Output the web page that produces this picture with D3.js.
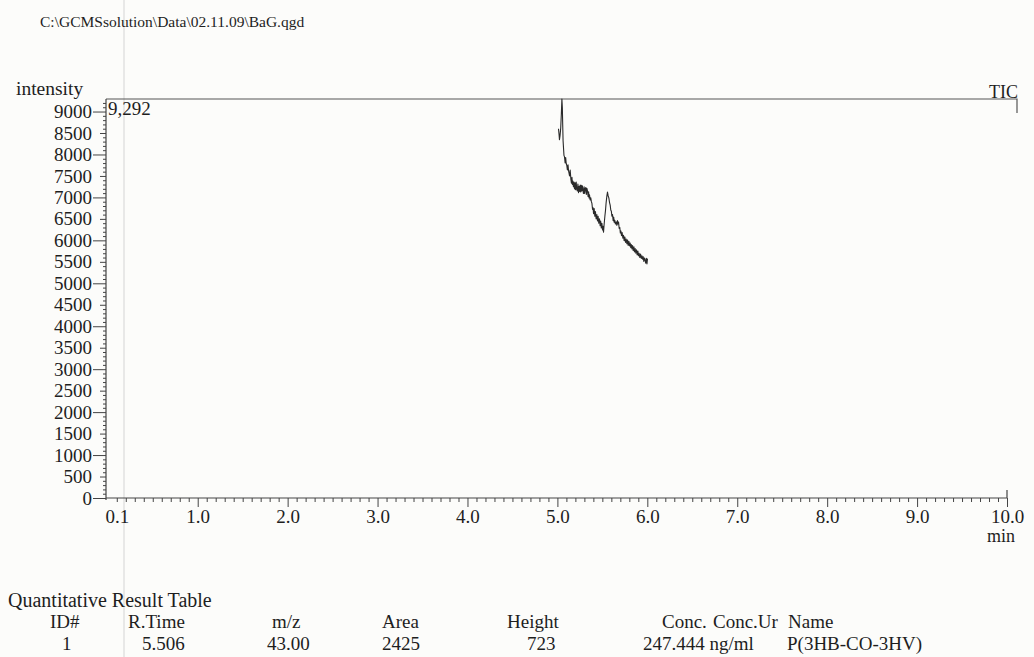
<!DOCTYPE html>
<html>
<head>
<meta charset="utf-8">
<script src="https://cdn.jsdelivr.net/npm/d3@7"></script>
<style>
  body { margin: 0; background: #fcfcfa; }
  svg { display: block; font-family: "Liberation Serif", "Times New Roman", serif; }
</style>
</head>
<body>
<script>
// chromatogram (TIC) values
var times = [5.012, 5.018, 5.023, 5.030, 5.037, 5.044, 5.050, 5.055, 5.059, 5.063,
  5.068, 5.073, 5.079, 5.086, 5.092, 5.098, 5.105, 5.111, 5.118, 5.124,
  5.130, 5.135, 5.142, 5.150, 5.156, 5.162, 5.167, 5.172, 5.178, 5.184,
  5.190, 5.196, 5.202, 5.209, 5.215, 5.222, 5.228, 5.235, 5.241, 5.248,
  5.254, 5.260, 5.266, 5.272, 5.278, 5.284, 5.290, 5.297, 5.303, 5.309,
  5.316, 5.322, 5.328, 5.335, 5.341, 5.347, 5.352, 5.357, 5.364, 5.371,
  5.378, 5.384, 5.391, 5.397, 5.402, 5.409, 5.416, 5.423, 5.431, 5.439,
  5.446, 5.453, 5.460, 5.468, 5.475, 5.481, 5.488, 5.495, 5.502, 5.508,
  5.513, 5.520, 5.528, 5.535, 5.542, 5.550, 5.557, 5.564, 5.572, 5.580,
  5.587, 5.594, 5.600, 5.606, 5.613, 5.620, 5.626, 5.632, 5.638, 5.645,
  5.654, 5.661, 5.668, 5.674, 5.680, 5.687, 5.694, 5.700, 5.706, 5.713,
  5.720, 5.728, 5.735, 5.742, 5.750, 5.758, 5.765, 5.773, 5.780, 5.787,
  5.795, 5.802, 5.809, 5.816, 5.822, 5.829, 5.836, 5.843, 5.851, 5.858,
  5.865, 5.872, 5.880, 5.887, 5.895, 5.902, 5.909, 5.917, 5.925, 5.933,
  5.940, 5.947, 5.954, 5.961, 5.968, 5.975, 5.982, 5.989, 5.996, 6.002];

var intensities = [8598, 8480, 8342, 8450, 8620, 8950, 9292, 9100, 8700, 8326,
  8150, 7980, 7944, 7800, 7930, 7790, 7740, 7640, 7760, 7620,
  7560, 7500, 7640, 7420, 7330, 7470, 7300, 7380, 7250, 7360,
  7200, 7340, 7180, 7360, 7190, 7150, 7310, 7110, 7260, 7140,
  7290, 7130, 7280, 7150, 7270, 7170, 7090, 7250, 7090, 7200,
  7230, 7070, 7210, 7150, 7020, 7130, 6990, 7060, 6940, 6990,
  6900, 6860, 6720, 6760, 6620, 6740, 6560, 6670, 6500, 6600,
  6450, 6560, 6400, 6500, 6340, 6450, 6290, 6400, 6240, 6330,
  6190, 6380, 6560, 6698, 6880, 7030, 7123, 7040, 6990, 6880,
  6820, 6700, 6680, 6560, 6600, 6460, 6540, 6420, 6470, 6380,
  6430, 6350, 6460, 6380, 6426, 6280, 6300, 6170, 6220, 6110,
  6180, 6050, 6120, 5990, 6080, 5950, 6030, 5920, 6010, 5880,
  5980, 5870, 5940, 5830, 5900, 5800, 5880, 5760, 5850, 5730,
  5810, 5700, 5780, 5660, 5750, 5640, 5700, 5600, 5680, 5580,
  5640, 5560, 5620, 5510, 5590, 5540, 5470, 5580, 5450, 5574];

var maxIntensity = 9292;
var yMajorTicks = [0, 500, 1000, 1500, 2000, 2500, 3000, 3500, 4000, 4500,
  5000, 5500, 6000, 6500, 7000, 7500, 8000, 8500, 9000];
var xTickValues = [0.1, 1, 2, 3, 4, 5, 6, 7, 8, 9, 10];
var xTickLabels = ["0.1", "1.0", "2.0", "3.0", "4.0", "5.0", "6.0", "7.0", "8.0", "9.0", "10.0"];

var filePath = "C:\\GCMSsolution\\Data\\02.11.09\\BaG.qgd";
var tableTitle = "Quantitative Result Table";
var tableHeaders = ["ID#", "R.Time", "m/z", "Area", "Height", "Conc.", "Conc.Ur", "Name"];
var tableRow = ["1", "5.506", "43.00", "2425", "723", "247.444 ng/ml", "P(3HB-CO-3HV)"];

// layout
var W = 1034, H = 657;
var plotLeft = 106, plotRight = 1017, plotTop = 99, plotBottom = 498;
var ink = "#1e1e1e";

var svg = d3.select("body").append("svg")
    .attr("width", W)
    .attr("height", H);

var x = d3.scaleLinear().domain([-0.02, 10]).range([plotLeft, 1007]);
var y = d3.scaleLinear().domain([0, maxIntensity]).range([plotBottom, plotTop]);

// faint scanner line
svg.append("line")
    .attr("x1", 124).attr("x2", 124)
    .attr("y1", 0).attr("y2", H)
    .attr("stroke", "#d4d4d4")
    .attr("stroke-width", 1);

// file path
svg.append("text")
    .attr("x", 40).attr("y", 27)
    .style("font-size", "15.5px")
    .attr("fill", ink)
    .text(filePath);

// axis titles
svg.append("text")
    .attr("x", 16).attr("y", 95)
    .style("font-size", "19.5px")
    .attr("fill", ink)
    .text("intensity");

svg.append("text")
    .attr("x", 1018).attr("y", 98)
    .attr("text-anchor", "end")
    .style("font-size", "18px")
    .attr("fill", ink)
    .text("TIC");

svg.append("text")
    .attr("x", 1015).attr("y", 542)
    .attr("text-anchor", "end")
    .style("font-size", "18px")
    .attr("fill", ink)
    .text("min");

// frame top and right
svg.append("path")
    .attr("d", "M" + plotLeft + "," + plotTop + "H" + plotRight + "V" + (plotTop + 14))
    .attr("fill", "none")
    .attr("stroke", "#555")
    .attr("stroke-width", 1.2);

function styleAxis(g) {
  g.select(".domain").remove();
  g.selectAll("line").attr("stroke", "#444");
  g.selectAll("text").attr("fill", ink).style("font-size", "19px")
      .style("font-family", "Liberation Serif, serif");
}

// y axis ticks
var yMinor = d3.range(0, 9300, 100).filter(function(d) { return d % 500 !== 0; });
svg.append("g")
    .attr("transform", "translate(" + plotLeft + ",0)")
    .call(d3.axisLeft(y).tickValues(yMinor).tickSize(3).tickFormat(""))
    .call(styleAxis);
svg.append("g")
    .attr("transform", "translate(" + plotLeft + ",0)")
    .call(d3.axisLeft(y).tickValues(yMajorTicks.filter(function(d) { return d % 1000 !== 0; }))
        .tickSize(6).tickFormat(""))
    .call(styleAxis);
svg.append("g")
    .attr("transform", "translate(" + plotLeft + ",0)")
    .call(d3.axisLeft(y).tickValues(yMajorTicks.filter(function(d) { return d % 1000 === 0; }))
        .tickSize(13).tickFormat(""))
    .call(styleAxis);
svg.append("g")
    .attr("transform", "translate(" + plotLeft + ",0)")
    .call(d3.axisLeft(y).tickValues(yMajorTicks).tickSize(0).tickPadding(14)
        .tickFormat(d3.format("d")))
    .call(styleAxis);

svg.append("line")
    .attr("x1", plotLeft).attr("x2", plotLeft)
    .attr("y1", plotTop).attr("y2", plotBottom + 2)
    .attr("stroke", "#444").attr("stroke-width", 1.2);

// x axis ticks
var xMinor = d3.range(1, 100).map(function(d) { return d / 10; })
    .filter(function(d) { return Math.abs(d - Math.round(d)) > 1e-6; });
svg.append("g")
    .attr("transform", "translate(0," + plotBottom + ")")
    .call(d3.axisBottom(x).tickValues(xMinor).tickSize(4).tickFormat(""))
    .call(styleAxis);
svg.append("g")
    .attr("transform", "translate(0," + plotBottom + ")")
    .call(d3.axisBottom(x).tickValues(d3.range(1, 11)).tickSize(9).tickFormat(""))
    .call(styleAxis);
svg.append("g")
    .attr("transform", "translate(0," + plotBottom + ")")
    .call(d3.axisBottom(x).tickValues(xTickValues).tickSize(0).tickPadding(12)
        .tickFormat(function(d, i) { return xTickLabels[i]; }))
    .call(styleAxis);

svg.append("line")
    .attr("x1", plotLeft).attr("x2", x(10))
    .attr("y1", plotBottom).attr("y2", plotBottom)
    .attr("stroke", "#444").attr("stroke-width", 1.2);
svg.append("line")
    .attr("x1", x(10)).attr("x2", x(10))
    .attr("y1", plotBottom).attr("y2", plotBottom - 8)
    .attr("stroke", "#444").attr("stroke-width", 1.2);

// max intensity label
svg.append("text")
    .attr("x", plotLeft + 2).attr("y", 115)
    .style("font-size", "19px")
    .attr("fill", ink)
    .text(d3.format(",")(maxIntensity));

// the trace
var trace = times.map(function(t, i) { return [t, intensities[i]]; });
svg.append("path")
    .datum(trace)
    .attr("fill", "none")
    .attr("stroke", "#2a2a2a")
    .attr("stroke-width", 1.1)
    .attr("stroke-linejoin", "round")
    .attr("d", d3.line()
        .x(function(d) { return x(d[0]); })
        .y(function(d) { return y(d[1]); }));

// result table
svg.append("text")
    .attr("x", 8).attr("y", 607)
    .style("font-size", "20px")
    .attr("fill", ink)
    .text(tableTitle);

var headerX = [50, 128, 272, 382, 507, 662, 713, 788];
var rowX = [62, 142, 267, 382, 527, 643, 787];

svg.append("g").selectAll("text")
    .data(tableHeaders)
    .join("text")
    .attr("x", function(d, i) { return headerX[i]; })
    .attr("y", 628)
    .style("font-size", "19px")
    .attr("fill", ink)
    .text(function(d) { return d; });

svg.append("g").selectAll("text")
    .data(tableRow)
    .join("text")
    .attr("x", function(d, i) { return rowX[i]; })
    .attr("y", 650)
    .style("font-size", "19px")
    .attr("fill", ink)
    .text(function(d) { return d; });
</script>
</body>
</html>
